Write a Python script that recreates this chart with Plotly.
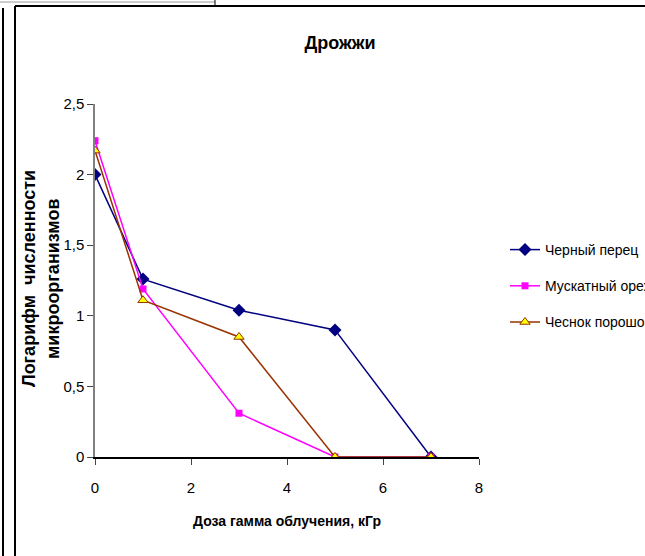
import plotly.graph_objects as go

dose = [0, 1, 3, 5, 7]
pepper = [2.0, 1.26, 1.04, 0.90, 0.0]
nutmeg = [2.24, 1.19, 0.31, 0.0, 0.0]
garlic = [2.17, 1.11, 0.85, 0.0, 0.0]
names = ["Черный перец", "Мускатный орех", "Чеснок порошок"]
ytitle_lines = ["Логарифм  численности", "микроорганизмов"]

FONT = "Liberation Sans Narrow, Arial Narrow, Liberation Sans, Arial"

fig = go.Figure()
fig.add_trace(go.Scatter(x=dose, y=pepper, name=names[0], mode="lines+markers", legendgroup="a",
                         line=dict(color="#000080", width=1.5),
                         marker=dict(symbol="diamond", size=10, color="#000080")))
fig.add_trace(go.Scatter(x=dose, y=nutmeg, name=names[1], mode="lines+markers", legendgroup="b",
                         line=dict(color="#FF00FF", width=1.5),
                         marker=dict(symbol="square", size=7, color="#FF00FF")))
fig.add_trace(go.Scatter(x=dose, y=garlic, name=names[2], mode="lines+markers", legendgroup="c",
                         line=dict(color="#993300", width=1.5),
                         marker=dict(symbol="triangle-up", size=9, color="#FFFF00",
                                     line=dict(color="#993300", width=1))))

L, R, T, B = 95, 479, 104, 457
W, H = 645, 556

def px(x):
    return (x - L) / (R - L)

def py(y):
    return (B - y) / (B - T)

shapes = [
    dict(type="line", xref="paper", yref="paper", x0=px(15), x1=px(15), y0=py(6), y1=py(560),
         line=dict(color="black", width=2)),
    dict(type="line", xref="paper", yref="paper", x0=px(15), x1=px(650), y0=py(6), y1=py(6),
         line=dict(color="black", width=2)),
    dict(type="line", xref="paper", yref="paper", x0=px(3), x1=px(3), y0=py(8), y1=py(560),
         line=dict(color="black", width=2)),
    dict(type="line", xref="paper", yref="paper", x0=px(0), x1=px(215), y0=py(2), y1=py(2),
         line=dict(color="#999999", width=1)),
    dict(type="line", xref="paper", yref="paper", x0=px(215), x1=px(215), y0=py(0), y1=py(5),
         line=dict(color="black", width=1)),
]

annotations = [
    dict(text="<b>%s</b>" % ytitle_lines[0], xref="paper", yref="paper", x=px(29), y=py(279),
         xanchor="center", yanchor="middle", textangle=-90, showarrow=False,
         font=dict(family=FONT, size=18)),
    dict(text="<b>%s</b>" % ytitle_lines[1], xref="paper", yref="paper", x=px(53), y=py(279),
         xanchor="center", yanchor="middle", textangle=-90, showarrow=False,
         font=dict(family=FONT, size=18)),
]

fig.update_layout(
    width=W, height=H,
    margin=dict(l=L, r=W - R, t=T, b=H - B, autoexpand=False),
    paper_bgcolor="white", plot_bgcolor="white",
    font=dict(family=FONT, size=14, color="black"),
    title=dict(text="<b>Дрожжи</b>", x=px(340), xanchor="center", y=1 - 43 / H, yanchor="middle",
               xref="paper", font=dict(family=FONT, size=18)),
    showlegend=True,
    legend=dict(x=px(505), xanchor="left", y=py(286), yanchor="middle",
                font=dict(family=FONT, size=14), bgcolor="rgba(0,0,0,0)",
                traceorder="grouped", tracegroupgap=15, itemwidth=30),
    shapes=shapes,
    annotations=annotations,
    xaxis=dict(range=[0, 8], tickvals=[0, 2, 4, 6, 8], ticks="outside", ticklen=6,
               showline=True, linecolor="black", linewidth=1.5, showgrid=False, zeroline=False,
               tickfont=dict(size=15), ticklabelstandoff=10,
               title=dict(text="<b>Доза гамма облучения, кГр</b>", font=dict(size=14), standoff=21)),
    yaxis=dict(range=[0, 2.5], tickvals=[0, 0.5, 1, 1.5, 2, 2.5],
               ticktext=["0", "0,5", "1", "1,5", "2", "2,5"], ticks="outside", ticklen=6,
               showline=True, linecolor="#808080", linewidth=1.5, showgrid=False, zeroline=False,
               tickfont=dict(size=15)),
)

fig.write_html("out.html")
